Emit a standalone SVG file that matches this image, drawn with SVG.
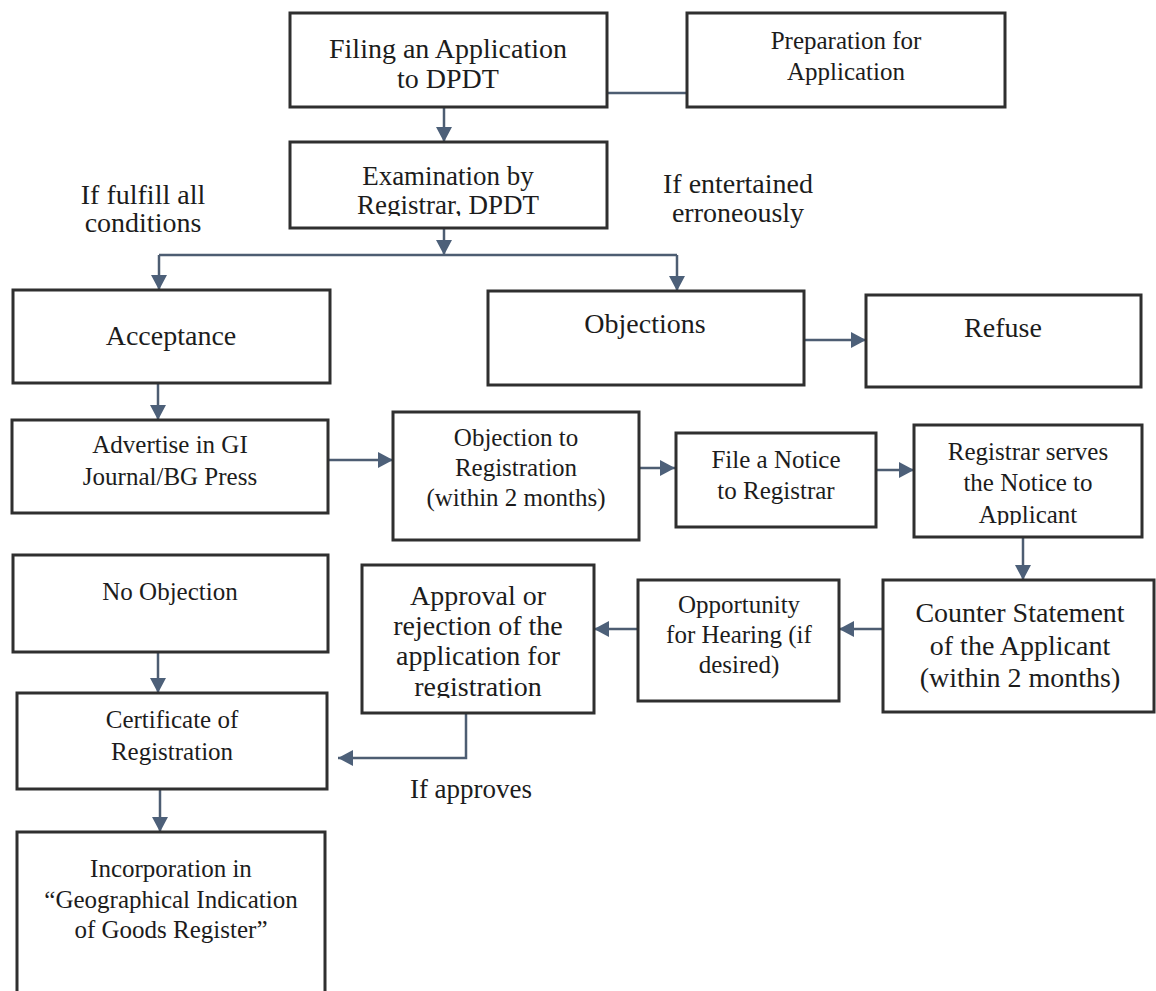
<svg xmlns="http://www.w3.org/2000/svg" width="1156" height="991" viewBox="0 0 1156 991">
<defs>
<marker id="ah" markerWidth="16" markerHeight="16" refX="15" refY="8" orient="auto" markerUnits="userSpaceOnUse"><path d="M0,0 L15,8 L0,16 Z" fill="#4d6079"/></marker>
<clipPath id="clipExam"><rect x="290" y="140" width="320" height="76"/></clipPath>
<clipPath id="clipReg"><rect x="914" y="425" width="230" height="100"/></clipPath>
<clipPath id="clipAppr"><rect x="362" y="565" width="232" height="133"/></clipPath>
</defs>
<style>
.box{fill:#fff;stroke:#2f2f2f;stroke-width:3}
.t{font-family:"Liberation Serif","Times New Roman",serif;fill:#1c1c1c;text-anchor:middle}
.s25{font-size:25px}
.s27{font-size:27px}
.s28{font-size:28px}
.c{fill:none;stroke:#4d5d72;stroke-width:2.5}
.ca{fill:none;stroke:#4d5d72;stroke-width:2.5;marker-end:url(#ah)}
</style>
<rect width="1156" height="991" fill="#fff"/>

<g id="connectors">
<line class="c" x1="607" y1="93" x2="687" y2="93"/>
<line class="ca" x1="444" y1="107" x2="444" y2="142"/>
<line class="ca" x1="444" y1="228" x2="444" y2="255"/>
<polyline class="c" points="159,255 677,255"/>
<line class="ca" x1="159" y1="255" x2="159" y2="290"/>
<line class="ca" x1="677" y1="255" x2="677" y2="291"/>
<line class="ca" x1="804" y1="340" x2="866" y2="340"/>
<line class="ca" x1="158" y1="383" x2="158" y2="420"/>
<line class="ca" x1="328" y1="460" x2="393" y2="460"/>
<line class="ca" x1="639" y1="468" x2="675" y2="468"/>
<line class="ca" x1="876" y1="470" x2="914" y2="470"/>
<line class="ca" x1="1023" y1="537" x2="1023" y2="580"/>
<line class="ca" x1="883" y1="629" x2="839" y2="629"/>
<line class="ca" x1="638" y1="629" x2="594" y2="629"/>
<line class="ca" x1="158" y1="652" x2="158" y2="693"/>
<polyline class="ca" points="466,713 466,758 338,758"/>
<line class="ca" x1="160" y1="789" x2="160" y2="832"/>
</g>

<g id="filing">
<rect class="box" x="290" y="13" width="317" height="94"/>
<text class="t s28" x="448" y="58">Filing an Application</text>
<text class="t s28" x="448" y="88">to DPDT</text>
</g>

<g id="preparation">
<rect class="box" x="687" y="13" width="318" height="94"/>
<text class="t s25" x="846" y="49">Preparation for</text>
<text class="t s25" x="846" y="80">Application</text>
</g>

<g id="examination">
<rect class="box" x="290" y="142" width="317" height="86"/>
<g clip-path="url(#clipExam)">
<text class="t s27" x="448" y="185">Examination by</text>
<text class="t s27" x="448" y="214">Registrar, DPDT</text>
</g>
</g>

<g id="label-fulfill">
<text class="t s28" x="143" y="204">If fulfill all</text>
<text class="t s28" x="143" y="232">conditions</text>
</g>

<g id="label-erroneous">
<text class="t s28" x="738" y="193">If entertained</text>
<text class="t s28" x="738" y="222">erroneously</text>
</g>

<g id="acceptance">
<rect class="box" x="13" y="290" width="317" height="93"/>
<text class="t s28" x="171" y="345">Acceptance</text>
</g>

<g id="objections">
<rect class="box" x="488" y="291" width="316" height="94"/>
<text class="t s28" x="645" y="333">Objections</text>
</g>

<g id="refuse">
<rect class="box" x="866" y="295" width="275" height="92"/>
<text class="t s28" x="1003" y="337">Refuse</text>
</g>

<g id="advertise">
<rect class="box" x="12" y="420" width="316" height="93"/>
<text class="t s25" x="170" y="453">Advertise in GI</text>
<text class="t s25" x="170" y="485">Journal/BG Press</text>
</g>

<g id="objection-registration">
<rect class="box" x="393" y="412" width="246" height="128"/>
<text class="t s25" x="516" y="446">Objection to</text>
<text class="t s25" x="516" y="476">Registration</text>
<text class="t s25" x="516" y="506">(within 2 months)</text>
</g>

<g id="file-notice">
<rect class="box" x="676" y="433" width="200" height="94"/>
<text class="t s25" x="776" y="468">File a Notice</text>
<text class="t s25" x="776" y="499">to Registrar</text>
</g>

<g id="registrar-serves">
<rect class="box" x="914" y="425" width="228" height="112"/>
<g clip-path="url(#clipReg)">
<text class="t s25" x="1028" y="460">Registrar serves</text>
<text class="t s25" x="1028" y="491">the Notice to</text>
<text class="t s25" x="1028" y="523">Applicant</text>
</g>
</g>

<g id="counter-statement">
<rect class="box" x="883" y="580" width="271" height="132"/>
<text class="t s28" x="1020" y="622">Counter Statement</text>
<text class="t s28" x="1020" y="655">of the Applicant</text>
<text class="t s28" x="1020" y="687">(within 2 months)</text>
</g>

<g id="opportunity">
<rect class="box" x="638" y="580" width="201" height="121"/>
<text class="t s25" x="739" y="613">Opportunity</text>
<text class="t s25" x="739" y="643">for Hearing (if</text>
<text class="t s25" x="739" y="673">desired)</text>
</g>

<g id="approval">
<rect class="box" x="362" y="565" width="232" height="148"/>
<g clip-path="url(#clipAppr)">
<text class="t s28" x="478" y="605">Approval or</text>
<text class="t s28" x="478" y="635">rejection of the</text>
<text class="t s28" x="478" y="665">application for</text>
<text class="t s28" x="478" y="696">registration</text>
</g>
</g>

<g id="no-objection">
<rect class="box" x="13" y="555" width="315" height="97"/>
<text class="t s25" x="170" y="600">No Objection</text>
</g>

<g id="certificate">
<rect class="box" x="17" y="693" width="310" height="96"/>
<text class="t s25" x="172" y="728">Certificate of</text>
<text class="t s25" x="172" y="760">Registration</text>
</g>

<g id="label-approves">
<text class="t s27" x="471" y="798">If approves</text>
</g>

<g id="incorporation">
<rect class="box" x="17" y="832" width="308" height="175"/>
<text class="t s25" x="171" y="877">Incorporation in</text>
<text class="t s25" x="171" y="908">“Geographical Indication</text>
<text class="t s25" x="171" y="938">of Goods Register”</text>
</g>
</svg>
